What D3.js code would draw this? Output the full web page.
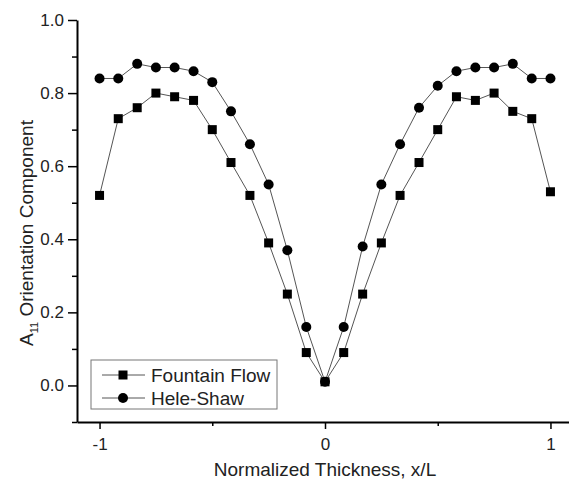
<!DOCTYPE html>
<html>
<head>
<meta charset="utf-8">
<script src="https://cdn.jsdelivr.net/npm/d3@7"></script>
<style>
  body { margin: 0; background: #fff; }
  svg { display: block; font-family: "Liberation Sans", Arial, sans-serif; }
</style>
</head>
<body>
<svg id="chart"></svg>
<script>
// thickness positions (x/L)
var xVals = [-1, -0.917, -0.833, -0.75, -0.667, -0.583, -0.5, -0.417, -0.333, -0.25, -0.167, -0.083, 0,
             0.083, 0.167, 0.25, 0.333, 0.417, 0.5, 0.583, 0.667, 0.75, 0.833, 0.917, 1];
var fountainFlow = [0.52, 0.73, 0.76, 0.80, 0.79, 0.78, 0.70, 0.61, 0.52, 0.39, 0.25, 0.09, 0.01,
                    0.09, 0.25, 0.39, 0.52, 0.61, 0.70, 0.79, 0.78, 0.80, 0.75, 0.73, 0.53];
var heleShaw = [0.84, 0.84, 0.88, 0.87, 0.87, 0.86, 0.83, 0.75, 0.66, 0.55, 0.37, 0.16, 0.01,
                0.16, 0.38, 0.55, 0.66, 0.76, 0.82, 0.86, 0.87, 0.87, 0.88, 0.84, 0.84];
var seriesNames = ["Fountain Flow", "Hele-Shaw"];
var yTicks = [0, 0.2, 0.4, 0.6, 0.8, 1.0];
var yMinor = [-0.1, 0.1, 0.3, 0.5, 0.7, 0.9];
var xTicks = [-1, 0, 1];
var xMinor = [-0.5, 0.5];

var svgWidth = 569, svgHeight = 479;
var margin = { top: 20, left: 77 };
var width = 496, height = 402;

var svg = d3.select("#chart")
    .attr("width", svgWidth)
    .attr("height", svgHeight);
var g = svg.append("g")
    .attr("transform", "translate(" + margin.left + "," + margin.top + ")");

var x = d3.scaleLinear().domain([-1.1, 1.1]).range([0, width]);
var y = d3.scaleLinear().domain([-0.1, 1.0]).range([height, 0]);

function parseData(vals) {
  return xVals.map(function(v, i) { return { x: v, y: vals[i] }; });
}

var line = d3.line()
    .x(function(d) { return x(d.x); })
    .y(function(d) { return y(d.y); });

function drawSeries(data, shape) {
  g.append("path")
      .datum(data)
      .attr("fill", "none")
      .attr("stroke", "#555")
      .attr("stroke-width", 1)
      .attr("d", line);
  if (shape == "square") {
    g.selectAll(null).data(data).enter().append("rect")
        .attr("x", function(d) { return x(d.x) - 4.5; })
        .attr("y", function(d) { return y(d.y) - 4.5; })
        .attr("width", 9).attr("height", 9)
        .attr("fill", "#000");
  } else {
    g.selectAll(null).data(data).enter().append("circle")
        .attr("cx", function(d) { return x(d.x); })
        .attr("cy", function(d) { return y(d.y); })
        .attr("r", 5)
        .attr("fill", "#000");
  }
}

drawSeries(parseData(fountainFlow), "square");
drawSeries(parseData(heleShaw), "circle");

// axes
g.append("g")
    .call(d3.axisLeft(y).tickValues(yTicks).tickFormat(d3.format(".1f")).tickSize(9).tickSizeOuter(0).tickPadding(4));
g.append("g")
    .call(d3.axisLeft(y).tickValues(yMinor).tickFormat("").tickSize(5).tickSizeOuter(0))
    .select(".domain").remove();
g.append("g")
    .attr("transform", "translate(0," + height + ")")
    .call(d3.axisBottom(x).tickValues(xTicks).tickFormat(function(d) { return String(d); })
      .tickSize(7).tickSizeOuter(0).tickPadding(9));
g.append("g")
    .attr("transform", "translate(0," + height + ")")
    .call(d3.axisBottom(x).tickValues(xMinor).tickFormat("").tickSize(4).tickSizeOuter(0))
    .select(".domain").remove();

g.selectAll(".domain").attr("stroke-width", 2);
g.selectAll(".tick line").attr("stroke-width", 1.5);
g.selectAll(".tick text").attr("font-size", 17).attr("fill", "#222")
    .attr("font-family", "Liberation Sans, Arial, sans-serif");

// axis titles
svg.append("text")
    .attr("x", 325)
    .attr("y", 476)
    .attr("text-anchor", "middle")
    .attr("font-size", 19)
    .attr("fill", "#222")
    .text("Normalized Thickness, x/L");

var yl = svg.append("text")
    .attr("transform", "translate(33,233) rotate(-90)")
    .attr("text-anchor", "middle")
    .attr("font-size", 19)
    .attr("fill", "#222");
yl.append("tspan").text("A");
yl.append("tspan").attr("dy", 5).attr("font-size", 11).text("11");
yl.append("tspan").attr("dy", -5).text(" Orientation Component");

// legend
var legend = svg.append("g");
legend.append("rect")
    .attr("x", 91).attr("y", 360)
    .attr("width", 186).attr("height", 49)
    .attr("fill", "#fff")
    .attr("stroke", "#777")
    .attr("stroke-width", 1);
seriesNames.forEach(function(name, i) {
  var ly = 375 + i * 23;
  legend.append("line")
      .attr("x1", 102).attr("x2", 145)
      .attr("y1", ly).attr("y2", ly)
      .attr("stroke", "#555").attr("stroke-width", 1);
  if (i == 0) {
    legend.append("rect").attr("x", 118.5).attr("y", ly - 4.5)
        .attr("width", 9).attr("height", 9).attr("fill", "#000");
  } else {
    legend.append("circle").attr("cx", 123).attr("cy", ly).attr("r", 5).attr("fill", "#000");
  }
  legend.append("text")
      .attr("x", 151).attr("y", ly + 7)
      .attr("font-size", 19)
      .attr("fill", "#222")
      .text(name);
});
</script>
</body>
</html>
